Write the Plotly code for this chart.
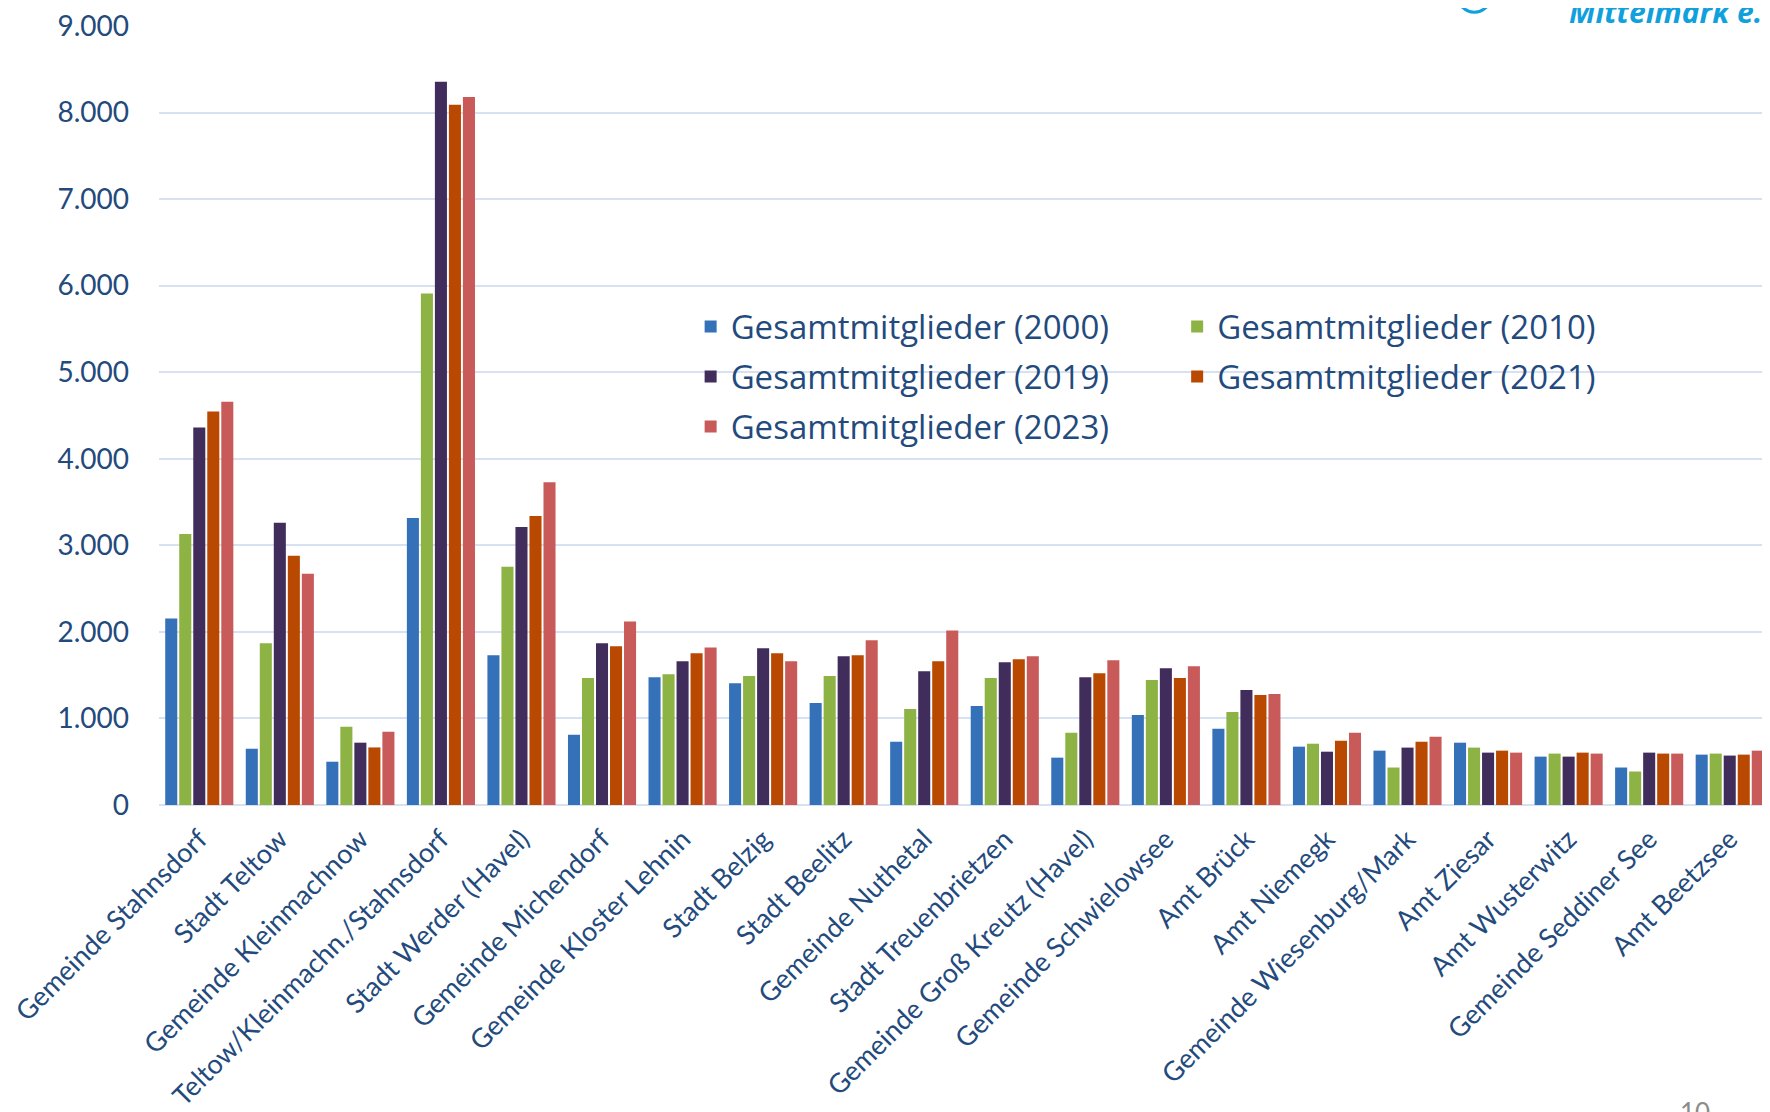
import plotly.graph_objects as go

# Kommunen / Ämter (x-Achse)
gemeinden = [
    "Gemeinde Stahnsdorf", "Stadt Teltow", "Gemeinde Kleinmachnow",
    "Teltow/Kleinmachn./Stahnsdorf", "Stadt Werder (Havel)", "Gemeinde Michendorf",
    "Gemeinde Kloster Lehnin", "Stadt Belzig", "Stadt Beelitz", "Gemeinde Nuthetal",
    "Stadt Treuenbrietzen", "Gemeinde Groß Kreutz (Havel)", "Gemeinde Schwielowsee",
    "Amt Brück", "Amt Niemegk", "Gemeinde Wiesenburg/Mark", "Amt Ziesar",
    "Amt Wusterwitz", "Gemeinde Seddiner See", "Amt Beetzsee",
]

mitglieder_2000 = [2155, 650, 500, 3315, 1730, 812, 1477, 1408, 1178, 731,
                   1145, 547, 1041, 880, 674, 628, 720, 559, 433, 582]
mitglieder_2010 = [3130, 1870, 904, 5910, 2752, 1466, 1511, 1489, 1489, 1110,
                   1466, 834, 1443, 1075, 708, 433, 663, 594, 387, 594]
mitglieder_2019 = [4360, 3260, 720, 8355, 3212, 1868, 1660, 1810, 1718, 1546,
                   1649, 1477, 1580, 1328, 616, 663, 605, 559, 605, 571]
mitglieder_2021 = [4545, 2880, 665, 8090, 3338, 1834, 1752, 1752, 1730, 1660,
                   1684, 1523, 1466, 1270, 743, 731, 628, 605, 594, 582]
mitglieder_2023 = [4660, 2672, 846, 8180, 3728, 2121, 1821, 1660, 1902, 2017,
                   1718, 1672, 1603, 1282, 834, 789, 605, 594, 594, 628]

TEXT = "#234a7d"
FONT = "Lato"

series = [
    ("Gesamtmitglieder (2000)", mitglieder_2000, "#3471b8", "legend"),
    ("Gesamtmitglieder (2010)", mitglieder_2010, "#8db344", "legend2"),
    ("Gesamtmitglieder (2019)", mitglieder_2019, "#412d5c", "legend"),
    ("Gesamtmitglieder (2021)", mitglieder_2021, "#b94900", "legend2"),
    ("Gesamtmitglieder (2023)", mitglieder_2023, "#c85a59", "legend"),
]

fig = go.Figure()
for name, vals, color, leg in series:
    fig.add_trace(go.Bar(
        x=gemeinden,
        y=vals,
        name=name,
        legend=leg,
        legendgroup=name,
        marker={"color": color, "line": {"width": 0}},
    ))

legend_common = dict(
    font={"family": "Open Sans", "size": 33, "color": TEXT},
    bgcolor="rgba(0,0,0,0)",
    orientation="v",
    yanchor="top",
    xanchor="left",
    tracegroupgap=4,
)

# page has an 8px body margin, so the figure is 8px smaller than the window
fig.update_layout(
    width=1762,
    height=1104,
    margin={"l": 150, "r": 0, "t": 15, "b": 302},
    plot_bgcolor="white",
    paper_bgcolor="white",
    separators=",.",
    barmode="group",
    bargap=0.13,
    bargroupgap=0.14,
    font={"family": FONT, "color": TEXT},
    legend=dict(x=0.330, y=0.650, **legend_common),
    legend2=dict(x=0.632, y=0.650, **legend_common),
    xaxis=dict(
        tickangle=-45,
        tickfont={"family": FONT, "size": 27, "color": TEXT},
        showgrid=False,
        showline=False,
        ticks="",
        ticklabelstandoff=12,
    ),
    yaxis=dict(
        range=[0, 9000],
        dtick=1000,
        tickformat=",.0f",
        tickfont={"family": FONT, "size": 28, "color": TEXT},
        gridcolor="#d6e2f1",
        gridwidth=2,
        zeroline=True,
        zerolinecolor="#d6e2f1",
        zerolinewidth=2,
        showline=False,
        ticks="",
        ticklabelstandoff=29,
        ticklabeloverflow="allow",
    ),
)

# Logo-Rest oben rechts und Seitenzahl unten rechts
fig.add_shape(
    type="circle", xref="paper", yref="paper",
    x0=0.788, x1=0.845, y0=1.0175, y1=1.4,
    line={"color": "#10a0dc", "width": 3},
)
fig.add_annotation(
    text="<b><i>Mittelmark e.V.</i></b>",
    xref="paper", yref="paper", x=0.874, y=0.9896,
    xanchor="left", yanchor="bottom", showarrow=False,
    font={"family": "Open Sans", "size": 30, "color": "#10a0dc"},
)
fig.add_annotation(
    text="10",
    xref="paper", yref="paper", x=0.943, y=-0.371,
    xanchor="left", yanchor="top", showarrow=False,
    font={"family": FONT, "size": 26, "color": "#8c8c8c"},
)

fig.write_html("out.html")
